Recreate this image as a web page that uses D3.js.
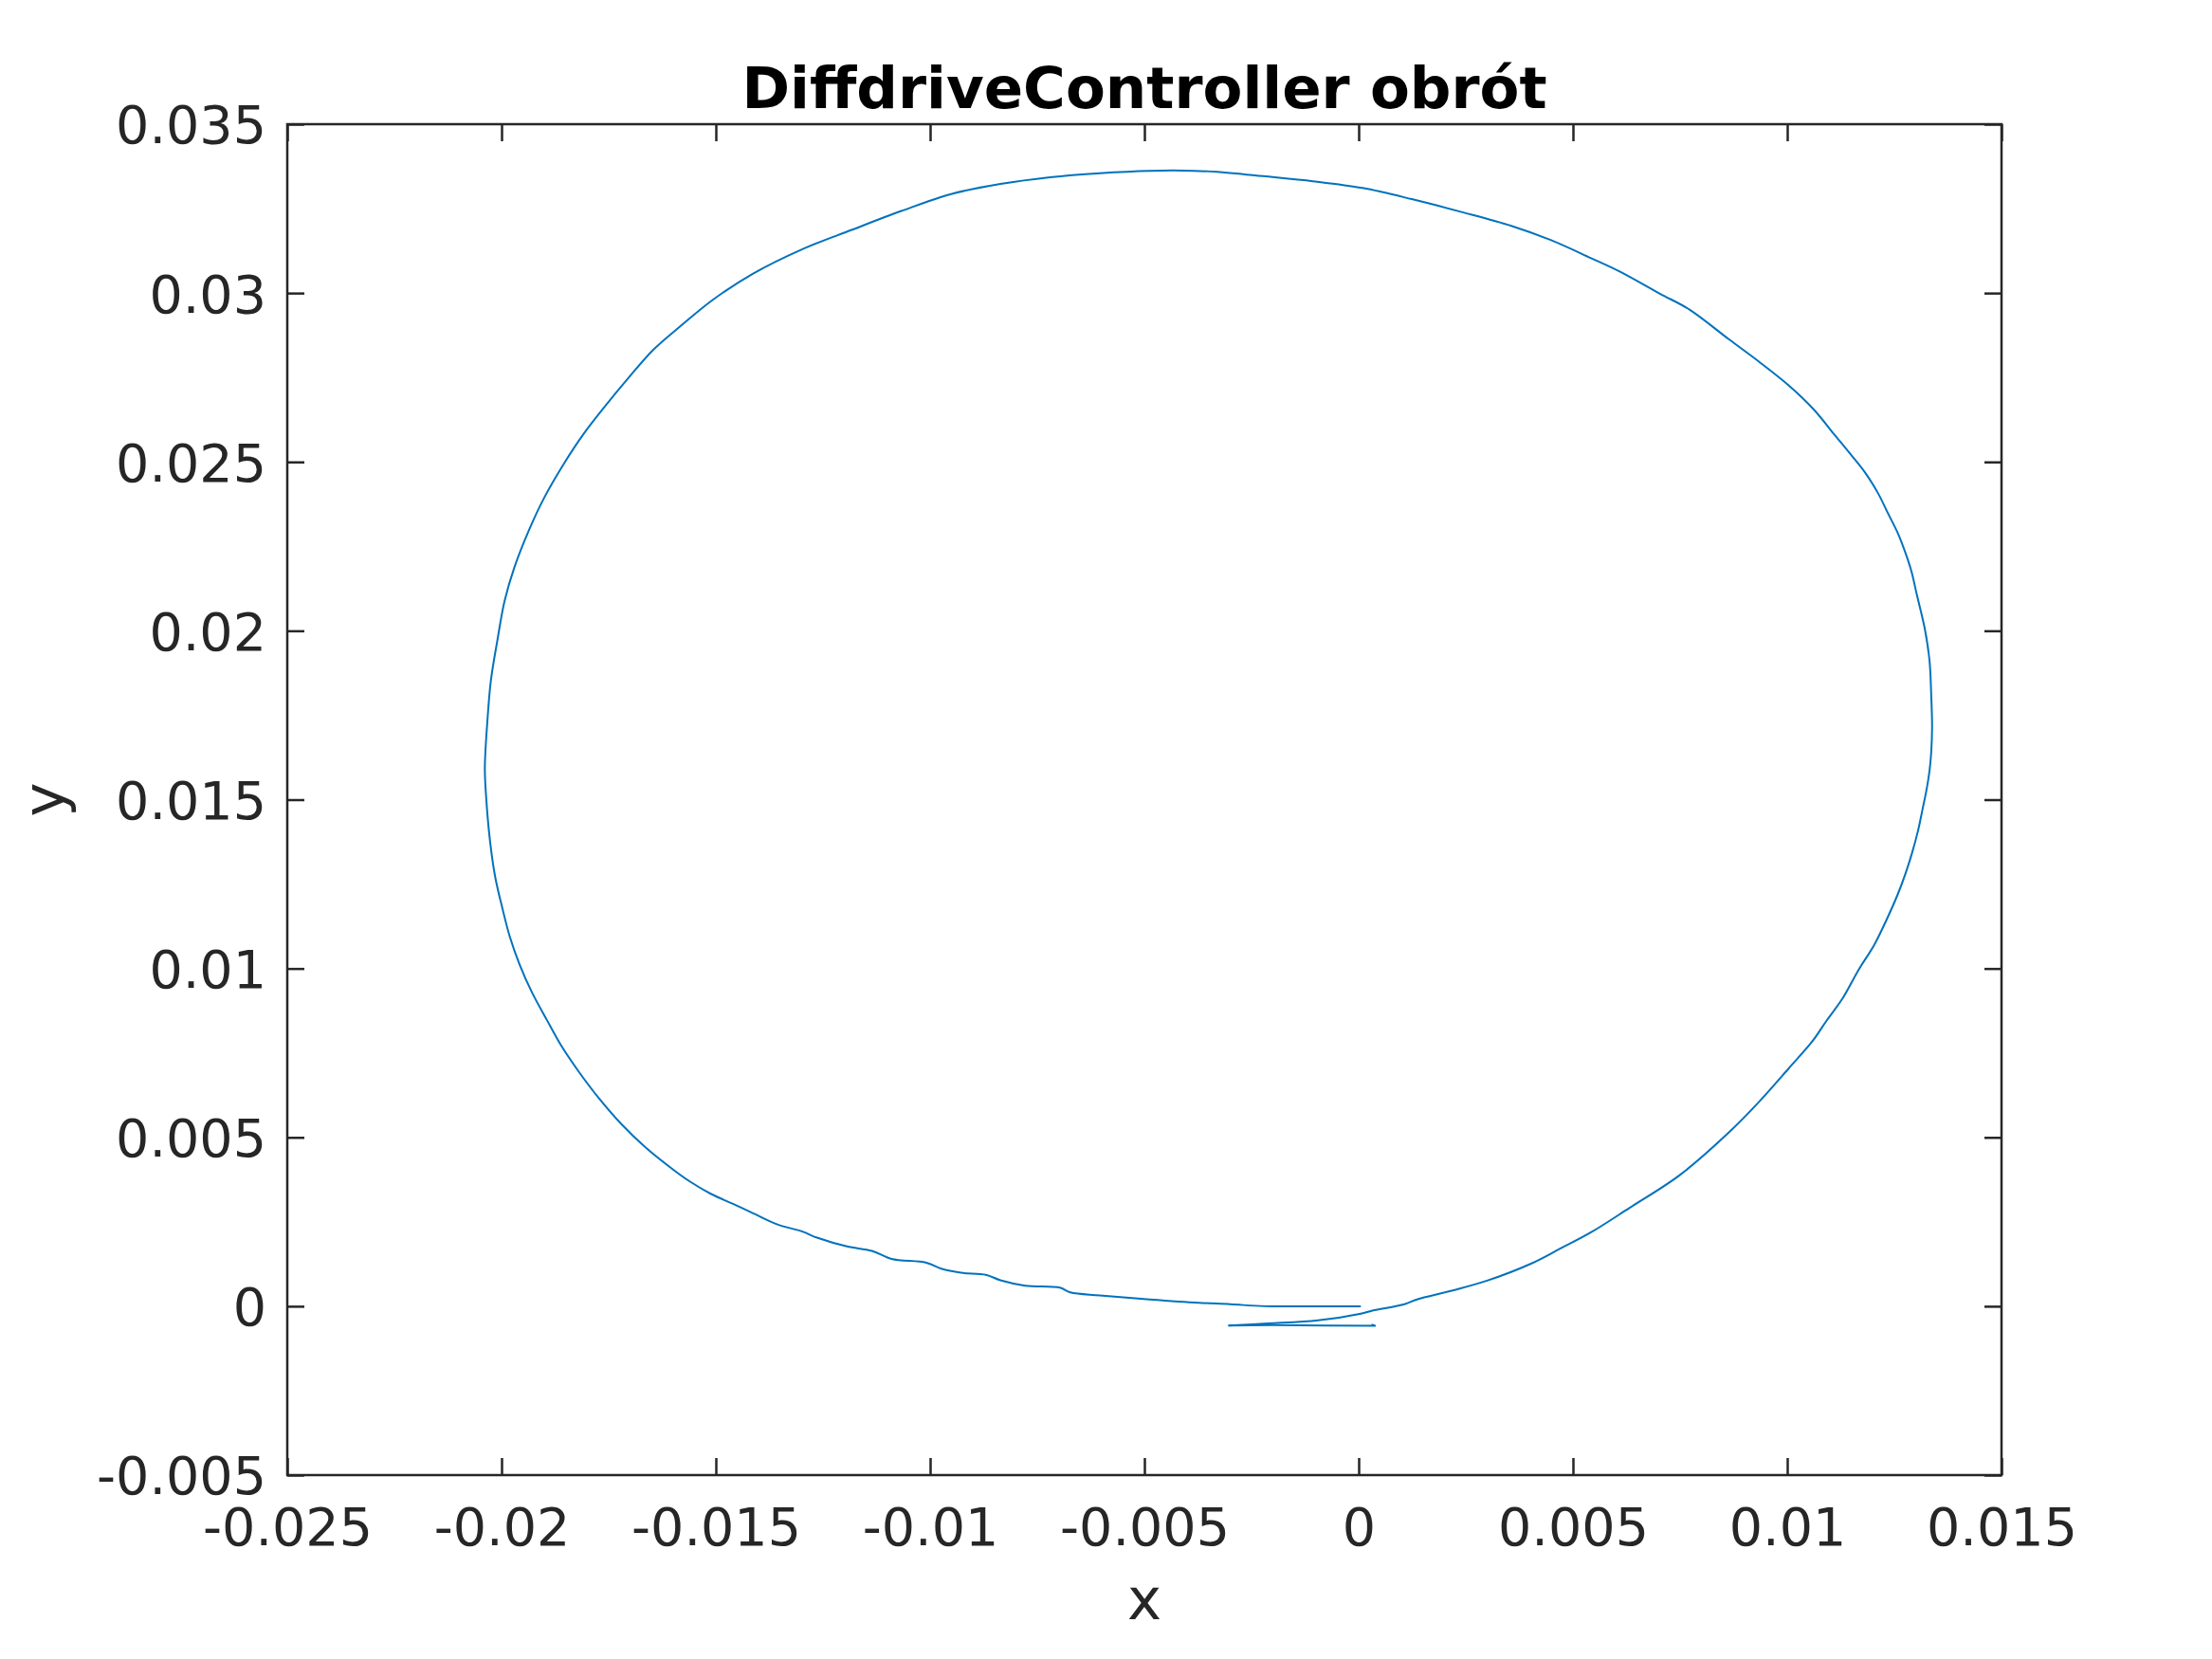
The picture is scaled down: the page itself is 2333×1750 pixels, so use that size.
<!DOCTYPE html>
<html>
<head>
<meta charset="utf-8">
<script src="https://cdn.jsdelivr.net/npm/d3@7/dist/d3.min.js"></script>
<style>
  html, body { margin: 0; padding: 0; background: #ffffff; }
  svg { display: block; }
</style>
</head>
<body>
<script>
// ---------- data ----------
const chartTitle = "DiffdriveController obrót";
const xLabel = "x";
const yLabel = "y";
const xTicks = [-0.025, -0.02, -0.015, -0.01, -0.005, 0, 0.005, 0.01, 0.015];
const xTickLabels = ["-0.025", "-0.02", "-0.015", "-0.01", "-0.005", "0", "0.005", "0.01", "0.015"];
const yTicks = [-0.005, 0, 0.005, 0.01, 0.015, 0.02, 0.025, 0.03, 0.035];
const yTickLabels = ["-0.005", "0", "0.005", "0.01", "0.015", "0.02", "0.025", "0.03", "0.035"];
const xDomain = [-0.025, 0.015];
const yDomain = [-0.005, 0.035];

// main loop of the trajectory (x, y), in path order
const loopX = [
  0.00005, -0.0010, -0.0022, -0.0030, -0.00373, -0.00488, -0.00604, -0.00673, -0.00697, -0.00778,
  -0.00836, -0.00870, -0.00928, -0.00974, -0.01009, -0.01090, -0.01136, -0.01194, -0.01264, -0.01298,
  -0.01356, -0.01414, -0.01460, -0.01512, -0.01559, -0.01599, -0.01663, -0.01721, -0.01773, -0.01819,
  -0.01860, -0.01894, -0.01929, -0.01958, -0.01981, -0.01998, -0.02015, -0.02027, -0.02036,
  -0.02039, -0.02033, -0.02025, -0.02010, -0.01993, -0.01970, -0.01935, -0.01900, -0.01854, -0.01808,
  -0.01761, -0.01703, -0.01646, -0.01576, -0.01507, -0.01414, -0.01298, -0.01183, -0.01067, -0.00951,
  -0.00836, -0.00720, -0.00604, -0.00488, -0.00384, -0.00294, -0.00223, -0.00107, 0.00009, 0.00124,
  0.00240, 0.00356, 0.00448, 0.00541, 0.00610, 0.00703, 0.00772, 0.00865, 0.00934, 0.01004,
  0.01062, 0.01108, 0.01154, 0.01183, 0.01212, 0.01235, 0.01258, 0.01276, 0.01290,
  0.01302, 0.01321, 0.01332, 0.01336, 0.01338, 0.01336, 0.01332, 0.01325, 0.01316, 0.01305,
  0.01291, 0.01277, 0.01258, 0.01232, 0.01203, 0.01166, 0.01129, 0.01092, 0.01059,
  0.01004, 0.00934, 0.00865, 0.00749, 0.00633, 0.00541, 0.00471, 0.00402, 0.00298, 0.00217,
  0.00136, 0.00107, 0.00032, 0.00005, -0.00095, -0.00211, -0.00304
];
const loopY = [
  0.00000, 0.00000, 0.00000, 0.00006, 0.00010, 0.00020, 0.00032, 0.00041, 0.00055, 0.00061,
  0.00077, 0.00093, 0.00099, 0.00111, 0.00129, 0.00140, 0.00164, 0.00177, 0.00203, 0.00221,
  0.00242, 0.00276, 0.00303, 0.00333, 0.00368, 0.00404, 0.00469, 0.00540, 0.00616, 0.00693,
  0.00770, 0.00847, 0.00929, 0.01012, 0.01095, 0.01178, 0.01272, 0.01378, 0.01508,
  0.01594, 0.01734, 0.01852, 0.01970, 0.02088, 0.02188, 0.02301, 0.02395, 0.02496, 0.02584,
  0.02661, 0.02750, 0.02832, 0.02909, 0.02980, 0.03057, 0.03130, 0.03187, 0.03243, 0.03293,
  0.03323, 0.03343, 0.03355, 0.03362, 0.03362, 0.03355, 0.03346, 0.03331, 0.03311, 0.03278,
  0.03240, 0.03199, 0.03157, 0.03104, 0.03063, 0.02998, 0.02951, 0.02862, 0.02797, 0.02726,
  0.02655, 0.02584, 0.02513, 0.02466, 0.02407, 0.02348, 0.02289, 0.02230, 0.02175,
  0.02109, 0.02006, 0.01912, 0.01809, 0.01716, 0.01641, 0.01585, 0.01529, 0.01473, 0.01407,
  0.01341, 0.01285, 0.01220, 0.01145, 0.01070, 0.00995, 0.00911, 0.00846, 0.00785,
  0.00705, 0.00605, 0.00516, 0.00388, 0.00292, 0.00218, 0.00171, 0.00126, 0.00075, 0.00046,
  0.00020, 0.00006, -0.00013, -0.00022, -0.00042, -0.00051, -0.00057
];
// short return stroke below the origin
const tailX = [-0.00304, -0.00200, -0.00080, 0.00038, 0.00030];
const tailY = [-0.00057, -0.00056, -0.00057, -0.00058, -0.00054];

// ---------- layout ----------
const W = 2333, H = 1750;
const plotL = 303, plotR = 2111, plotT = 131, plotB = 1556;
const ink = "#262626";
const lineColor = "#0072BD";
const tickFont = 55.5, labelFont = 61;
const tickLen = 18;
const fontFam = "'DejaVu Sans', sans-serif";

const svg = d3.select("body").append("svg")
  .attr("width", W).attr("height", H)
  .attr("viewBox", `0 0 ${W} ${H}`);

svg.append("rect").attr("width", W).attr("height", H).attr("fill", "#ffffff");

const x = d3.scaleLinear().domain(xDomain).range([plotL, plotR]);
const y = d3.scaleLinear().domain(yDomain).range([plotB, plotT]);

// data lines
const loopPts = loopX.map((v, i) => [v, loopY[i]]);
const tailPts = tailX.map((v, i) => [v, tailY[i]]);
svg.append("path")
  .datum(loopPts)
  .attr("fill", "none")
  .attr("stroke", lineColor)
  .attr("stroke-width", 2)
  .attr("stroke-linejoin", "round")
  .attr("d", d3.line().curve(d3.curveCatmullRom.alpha(0.5)).x(d => x(d[0])).y(d => y(d[1])));
svg.append("path")
  .datum(tailPts)
  .attr("fill", "none")
  .attr("stroke", lineColor)
  .attr("stroke-width", 2)
  .attr("stroke-linejoin", "round")
  .attr("d", d3.line().x(d => x(d[0])).y(d => y(d[1])));

// axes
function styleAxis(g) {
  g.select(".domain").remove();
  g.selectAll(".tick line").attr("stroke", ink).attr("stroke-width", 2.5);
  g.selectAll(".tick text")
    .attr("fill", ink)
    .style("font-family", fontFam)
    .style("font-size", tickFont + "px");
}

svg.append("g")
  .attr("transform", `translate(0,${plotB})`)
  .call(d3.axisBottom(x).tickValues(xTicks)
    .tickFormat((d, i) => xTickLabels[i])
    .tickSizeInner(-tickLen).tickSizeOuter(0).tickPadding(35))
  .call(styleAxis);

svg.append("g")
  .attr("transform", `translate(0,${plotT})`)
  .call(d3.axisTop(x).tickValues(xTicks).tickFormat("")
    .tickSizeInner(-tickLen).tickSizeOuter(0))
  .call(styleAxis);

svg.append("g")
  .attr("transform", `translate(${plotL},0)`)
  .call(d3.axisLeft(y).tickValues(yTicks)
    .tickFormat((d, i) => yTickLabels[i])
    .tickSizeInner(-tickLen).tickSizeOuter(0).tickPadding(22))
  .call(styleAxis)
  .call(g => g.selectAll(".tick text").attr("dy", "0.36em"));

svg.append("g")
  .attr("transform", `translate(${plotR},0)`)
  .call(d3.axisRight(y).tickValues(yTicks).tickFormat("")
    .tickSizeInner(-tickLen).tickSizeOuter(0))
  .call(styleAxis);

// box
svg.append("rect")
  .attr("x", plotL).attr("y", plotT)
  .attr("width", plotR - plotL).attr("height", plotB - plotT)
  .attr("fill", "none")
  .attr("stroke", ink)
  .attr("stroke-width", 2.5);

// title
svg.append("text")
  .attr("x", (plotL + plotR) / 2).attr("y", 114)
  .attr("text-anchor", "middle")
  .attr("fill", "#000000")
  .style("font-family", fontFam)
  .style("font-weight", "bold")
  .style("font-size", labelFont + "px")
  .text(chartTitle);

// x label
svg.append("text")
  .attr("x", (plotL + plotR) / 2).attr("y", 1708)
  .attr("text-anchor", "middle")
  .attr("fill", ink)
  .style("font-family", fontFam)
  .style("font-size", labelFont + "px")
  .text(xLabel);

// y label
svg.append("text")
  .attr("transform", `translate(67,${(plotT + plotB) / 2}) rotate(-90)`)
  .attr("text-anchor", "middle")
  .attr("fill", ink)
  .style("font-family", fontFam)
  .style("font-size", labelFont + "px")
  .text(yLabel);
</script>
</body>
</html>
